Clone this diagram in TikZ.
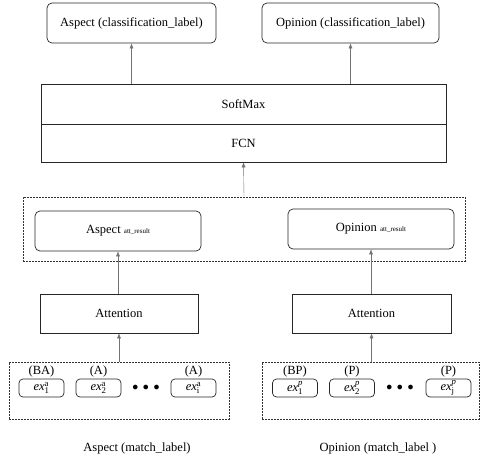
\documentclass[tikz,border=0pt]{standalone}
\usepackage{amsmath}
\usepackage{fontspec}
\setmainfont{Liberation Serif}
\usetikzlibrary{arrows.meta}

\tikzset{
    lblbox/.style={draw=black!85,line width=0.7pt,rounded corners=5pt,align=center},
    blk/.style={draw=black!85,line width=0.7pt,align=center},
    grp/.style={draw=black!80,line width=0.6pt,dashed,dash pattern=on 2pt off 1pt},
    tok/.style={draw=black!85,line width=0.7pt,rounded corners=4pt,minimum width=45pt,minimum height=18pt,inner sep=0pt},
    tag/.style={anchor=south,inner sep=0pt,yshift=1pt},
    arr/.style={-{Latex[length=5pt,width=4pt]},draw=black!55}
}

\begin{document}
\begin{tikzpicture}[x=1pt,y=-1pt,font=\fontsize{12.5}{15}\selectfont]
    \useasboundingbox (0,0) rectangle (481,461);
    % Outputs
    \node[lblbox,minimum width=169pt,minimum height=40pt] (asp_cls) at (131.5,23) {Aspect (classification\_label)};
    \node[lblbox,minimum width=177pt,minimum height=40pt] (opi_cls) at (350.5,23) {Opinion (classification\_label)};
    % Classifier
    \node[blk,minimum width=405pt,minimum height=40pt] (softmax) at (243.5,104) {SoftMax};
    \node[blk,minimum width=405pt,minimum height=38pt] (fcn) at (243.5,143) {FCN};
    \draw[arr] (asp_cls.south |- softmax.north) -- (asp_cls.south);
    \draw[arr] (opi_cls.south |- softmax.north) -- (opi_cls.south);
    % Attention results
    \node[grp,minimum width=442pt,minimum height=64pt] (res) at (244,229) {};
    \node[lblbox,minimum width=166pt,minimum height=40pt] (asp_att) at (118,231) {Aspect {\fontsize{7}{8}\selectfont att\_result}};
    \node[lblbox,minimum width=166pt,minimum height=40pt] (opi_att) at (371,229) {Opinion {\fontsize{7}{8}\selectfont att\_result}};
    \draw[arr] (res.north) -- (fcn.south);
    % Attention
    \node[blk,minimum width=158pt,minimum height=39pt] (asp_attn) at (119,313.5) {Attention};
    \node[blk,minimum width=159pt,minimum height=39pt] (opi_attn) at (371.5,313.5) {Attention};
    \draw[arr] (asp_attn.north -| asp_att.south) -- (asp_att.south);
    \draw[arr] (opi_attn.north -| opi_att.south) -- (opi_att.south);
    % Inputs
    \node[grp,minimum width=220pt,minimum height=57pt] (asp_in) at (119,390.5) {};
    \node[grp,minimum width=217pt,minimum height=57pt] (opi_in) at (370.5,390.5) {};
    \draw[arr] (asp_in.north) -- (asp_attn.south);
    \draw[arr] (opi_in.north -| opi_attn.south) -- (opi_attn.south);
    \foreach \x/\lab/\idx/\name in {41.5/BA/1/a1,98.5/A/2/a2,193.5/A/i/ai} {
        \node[tok] (\name) at (\x,388) {\textit{ex}$_{\text{\idx}}^{\text{a}}$};
        \node[tag] at (\name.north) {(\lab)};
    }
    \foreach \x/\lab/\idx/\name in {295/BP/1/p1,352/P/2/p2,448.5/P/j/pj} {
        \node[tok] (\name) at (\x,388) {\textit{ex}$_{\text{\idx}}^{\textit{p}}$};
        \node[tag] at (\name.north) {(\lab)};
    }
    \node (asp_dots) at (146,388) {$\bullet\,\bullet\,\bullet$};
    \node (opi_dots) at (400,388) {$\bullet\,\bullet\,\bullet$};
    % Labels
    \node (asp_cap) at (137,448) {Aspect (match\_label)};
    \node (opi_cap) at (378,448) {Opinion (match\_label )};
\end{tikzpicture}
\end{document}
